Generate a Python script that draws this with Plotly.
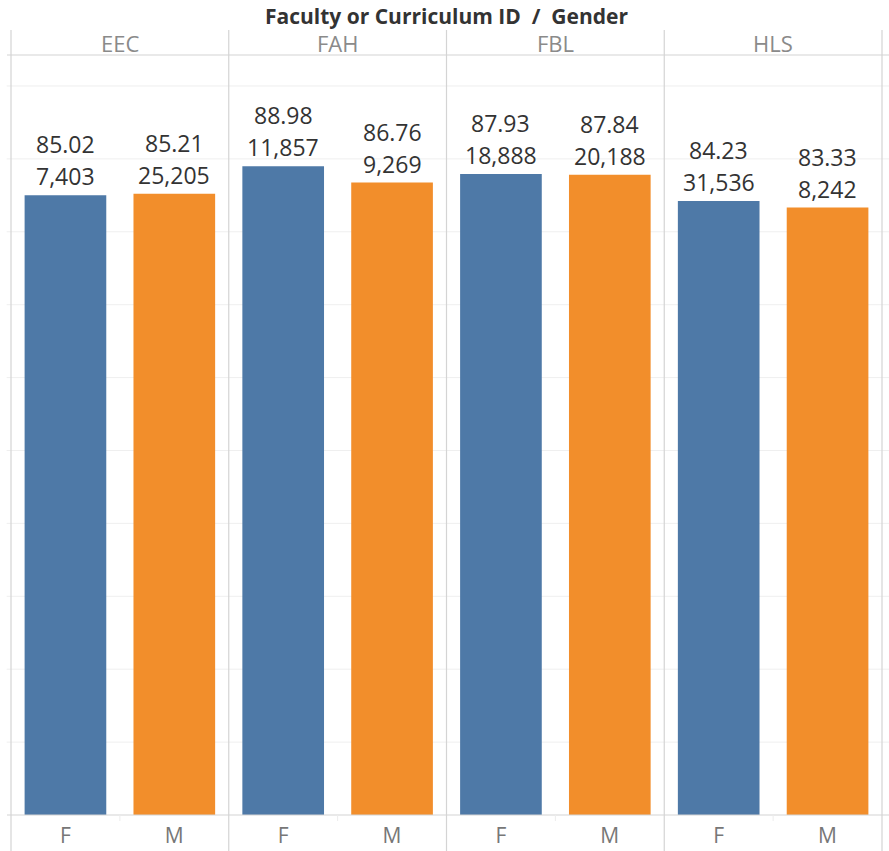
import plotly.graph_objects as go
from plotly.subplots import make_subplots

# Average score and headcount by faculty and gender
faculties = ["EEC", "FAH", "FBL", "HLS"]
genders = ["F", "M"]
avg_f = [85.02, 88.98, 87.93, 84.23]
avg_m = [85.21, 86.76, 87.84, 83.33]
count_f = [7403, 11857, 18888, 31536]
count_m = [25205, 9269, 20188, 8242]
grid_values = [10, 20, 30, 40, 50, 60, 70, 80, 90, 100]

colors = {"F": "#4e79a7", "M": "#f28e2b"}
FONT = "Open Sans"
W, H = 889, 851
ML, MR, MT, MB = 11, 7, 55, 36

fig = make_subplots(rows=1, cols=4, shared_yaxes=True, horizontal_spacing=0)

annotations = []
for i, fac in enumerate(faculties):
    avgs = [avg_f[i], avg_m[i]]
    counts = [count_f[i], count_m[i]]
    fig.add_trace(
        go.Bar(
            x=genders,
            y=avgs,
            marker=dict(color=[colors[g] for g in genders], line=dict(width=0)),
            showlegend=False,
            hoverinfo="skip",
        ),
        row=1, col=i + 1,
    )
    xref = "x" if i == 0 else f"x{i + 1}"
    yref = "y" if i == 0 else f"y{i + 1}"
    for g, a, c in zip(genders, avgs, counts):
        # two stacked value labels above each bar: average, then headcount
        annotations.append(dict(text=f"{c:,}", xref=xref, yref=yref, x=g, y=a,
                                yshift=19, showarrow=False, xanchor="center", yanchor="middle",
                                font=dict(family=FONT, size=23, color="#333333")))
        annotations.append(dict(text=f"{a:.2f}", xref=xref, yref=yref, x=g, y=a,
                                yshift=51, showarrow=False, xanchor="center", yanchor="middle",
                                font=dict(family=FONT, size=23, color="#333333")))

y_max = 104.25
for i in range(4):
    fig.update_xaxes(
        row=1, col=i + 1,
        showgrid=False, zeroline=False, showline=False, automargin=False,
        ticks="", tickfont=dict(family=FONT, size=21, color="#777777"),
        ticklabelstandoff=6,
    )
    fig.update_yaxes(
        row=1, col=i + 1,
        range=[0, y_max], showgrid=False, zeroline=False, automargin=False,
        showticklabels=False, ticks="", showline=False,
    )

shapes = []
# horizontal gridlines
for v in grid_values:
    shapes.append(dict(type="line", xref="paper", yref="y", x0=-0.005, x1=1.01,
                       y0=v, y1=v, line=dict(color="#efefef", width=1), layer="below"))
# header rule and baseline
px_x = lambda px: (px - ML) / (W - ML - MR)
px_y = lambda py: (H - MB - py) / (H - MT - MB)
for py in (55, 815):
    shapes.append(dict(type="line", xref="paper", yref="paper", x0=px_x(7), x1=px_x(889),
                       y0=px_y(py), y1=px_y(py), line=dict(color="#d4d4d4", width=1.2)))
# panel separators
for k in range(5):
    xs = k / 4
    shapes.append(dict(type="line", xref="paper", yref="paper", x0=xs, x1=xs,
                       y0=px_y(851), y1=px_y(30), line=dict(color="#d4d4d4", width=1.2)))
# short dividers between gender headers
for k in range(4):
    xs = (k + 0.5) / 4
    shapes.append(dict(type="line", xref="paper", yref="paper", x0=xs, x1=xs,
                       y0=px_y(821), y1=px_y(815), line=dict(color="#ececec", width=1)))

for k, fac in enumerate(faculties):
    annotations.append(dict(text=fac, xref="paper", yref="paper", x=(k + 0.5) / 4,
                            y=px_y(43), showarrow=False, xanchor="center", yanchor="middle",
                            font=dict(family=FONT, size=22, color="#8a8a8a")))
annotations.append(dict(text="<b>Faculty or Curriculum ID</b>  <b>/</b>  <b>Gender</b>",
                        xref="paper", yref="paper", x=0.5, y=px_y(16), showarrow=False,
                        xanchor="center", yanchor="middle",
                        font=dict(family=FONT, size=21, color="#333333")))

fig.update_layout(
    width=W, height=H,
    margin=dict(l=ML, r=MR, t=MT, b=MB),
    paper_bgcolor="white", plot_bgcolor="white",
    bargap=0.25,
    shapes=shapes, annotations=annotations,
)

fig.write_html("out.html")
